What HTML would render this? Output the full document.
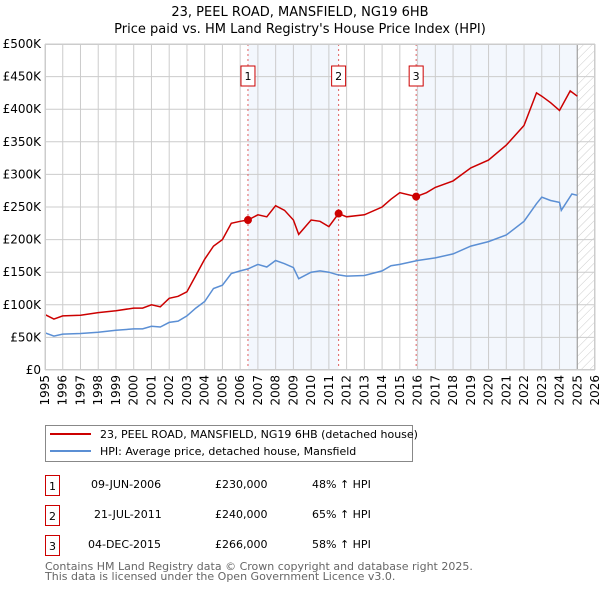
<!DOCTYPE html>
<html><head><meta charset="utf-8"><style>
body{margin:0;background:#fff;font-family:"DejaVu Sans","Liberation Sans",sans-serif;}
svg text{font-family:"DejaVu Sans","Liberation Sans",sans-serif;}
</style></head><body>
<svg id="c" width="600" height="590" xmlns="http://www.w3.org/2000/svg">
<defs><pattern id="hatch" width="6" height="6" patternUnits="userSpaceOnUse" patternTransform="rotate(45)"><line x1="0" y1="0" x2="0" y2="6" stroke="#ccc" stroke-width="1"/></pattern></defs>
<text x="300" y="16" text-anchor="middle" font-size="13">23, PEEL ROAD, MANSFIELD, NG19 6HB</text>
<text x="300" y="33" text-anchor="middle" font-size="13">Price paid vs. HM Land Registry's House Price Index (HPI)</text>
<g id="plot"></g>
<g>
<rect x="45.5" y="425.5" width="367" height="36" fill="#fff" stroke="#888"/>
<line x1="50" y1="434" x2="91" y2="434" stroke="#cc0000" stroke-width="2"/>
<text x="100" y="438" font-size="11">23, PEEL ROAD, MANSFIELD, NG19 6HB (detached house)</text>
<line x1="50" y1="451" x2="91" y2="451" stroke="#5b8fd4" stroke-width="2"/>
<text x="100" y="455" font-size="11">HPI: Average price, detached house, Mansfield</text>
</g>
<g font-size="11">
<rect x="45.5" y="475.5" width="14" height="20" fill="#fff" stroke="#cc0000"/><text x="52.5" y="490" text-anchor="middle">1</text>
<text x="91" y="488">09-JUN-2006</text><text x="215" y="488">£230,000</text><text x="312" y="488">48% ↑ HPI</text>
<rect x="45.5" y="505.5" width="14" height="20" fill="#fff" stroke="#cc0000"/><text x="52.5" y="520" text-anchor="middle">2</text>
<text x="94" y="518">21-JUL-2011</text><text x="215" y="518">£240,000</text><text x="312" y="518">65% ↑ HPI</text>
<rect x="45.5" y="535.5" width="14" height="20" fill="#fff" stroke="#cc0000"/><text x="52.5" y="550" text-anchor="middle">3</text>
<text x="88" y="548">04-DEC-2015</text><text x="215" y="548">£266,000</text><text x="312" y="548">58% ↑ HPI</text>
</g>
<text x="45" y="570" font-size="11" fill="#666">Contains HM Land Registry data © Crown copyright and database right 2025.</text>
<text x="45" y="580" font-size="11" fill="#666">This data is licensed under the Open Government Licence v3.0.</text>
</svg>
<script>
const hpiT=[1995,1995.5,1996,1997,1998,1999,2000,2000.5,2001,2001.5,2002,2002.5,2003,2003.5,2004,2004.5,2005,2005.5,2006,2006.44,2007,2007.5,2008,2008.5,2009,2009.3,2010,2010.5,2011,2011.5,2012,2013,2014,2014.5,2015,2016,2017,2018,2019,2020,2021,2022,2022.7,2023,2023.5,2024,2024.1,2024.7,2025];
const hpiV=[57,52,55,56,58,61,63,63,67,66,73,75,83,95,105,125,130,148,152,155,162,158,168,163,157,140,150,152,150,146,144,145,152,160,162,168,172,178,190,197,207,228,255,265,260,257,245,270,268];
const redT=[1995,1995.5,1996,1997,1998,1999,2000,2000.5,2001,2001.5,2002,2002.5,2003,2003.5,2004,2004.5,2005,2005.5,2006,2006.44,2007,2007.5,2008,2008.5,2009,2009.3,2010,2010.5,2011,2011.55,2012,2013,2014,2014.5,2015,2015.92,2016.5,2017,2018,2019,2020,2021,2022,2022.7,2023,2023.5,2024,2024.6,2025];
const redV=[85,78,83,84,88,91,95,95,100,97,110,113,120,145,170,190,200,225,228,230,238,235,252,245,230,208,230,228,220,240,235,238,250,262,272,266,272,280,290,310,322,345,375,425,420,410,398,428,420];
const saleT=[2006.44,2011.55,2015.92];
const saleV=[230,240,266];
const saleLabels=["1","2","3"];
const yTicks=[0,50,100,150,200,250,300,350,400,450,500];
const yTickLabels=["£0","£50K","£100K","£150K","£200K","£250K","£300K","£350K","£400K","£450K","£500K"];
const years=[1995,1996,1997,1998,1999,2000,2001,2002,2003,2004,2005,2006,2007,2008,2009,2010,2011,2012,2013,2014,2015,2016,2017,2018,2019,2020,2021,2022,2023,2024,2025,2026];
const X0=45,X1=595,Y0=370,Y1=44,T0=1995,T1=2026,V1=500,DATA_END=2025.0;
const xs=t=>X0+(t-T0)/(T1-T0)*(X1-X0);
const ys=v=>Y0-v/V1*(Y0-Y1);
const NS="http://www.w3.org/2000/svg";
const g=document.getElementById('plot');
function mk(tag,attrs,parent){const e=document.createElementNS(NS,tag);for(const k in attrs)e.setAttribute(k,attrs[k]);(parent||g).appendChild(e);return e;}
// shading
let e;
e=mk('rect',{x:xs(saleT[0]),y:Y1,width:xs(saleT[1])-xs(saleT[0]),height:Y0-Y1,fill:'#eef3fc',opacity:0.7});


e=mk('rect',{x:xs(saleT[2]),y:Y1,width:xs(DATA_END)-xs(saleT[2]),height:Y0-Y1,fill:'#eef3fc',opacity:0.7});


e=mk('rect',{x:xs(DATA_END),y:Y1,width:X1-xs(DATA_END),height:Y0-Y1,fill:'url(#hatch)'});


// grid
years.forEach(y=>{
 e=mk('line',{x1:xs(y),x2:xs(y),y1:Y1,y2:Y0,stroke:'#ccc','stroke-width':1});
 
 
 const tx=xs(y)+4;
 e=mk('text',{x:0,y:0,transform:`translate(${tx},${Y0+5}) rotate(-90)`,'text-anchor':'end','font-size':12});
 e.textContent=y;
 
 
});
yTicks.forEach((v,i)=>{
 e=mk('line',{x1:X0,x2:X1,y1:ys(v),y2:ys(v),stroke:'#ccc','stroke-width':1});
 
 
 e=mk('text',{x:X0-4,y:ys(v)+4,'text-anchor':'end','font-size':12});
 e.textContent=yTickLabels[i];
 
 
});
e=mk('line',{x1:xs(DATA_END),x2:xs(DATA_END),y1:Y1,y2:Y0,stroke:'#999','stroke-width':1});


// sale lines
saleT.forEach((t,i)=>{
 e=mk('line',{x1:xs(t),x2:xs(t),y1:Y1,y2:Y0,stroke:'#e06060','stroke-width':1,'stroke-dasharray':'2,3'});
 
 
 e=mk('rect',{x:xs(t)-7,y:66,width:14,height:20,fill:'#fff',stroke:'#cc0000'});
 
 
 e=mk('text',{x:xs(t),y:80,'text-anchor':'middle','font-size':11});
 e.textContent=saleLabels[i];
 
 
});
const path=(T,V)=>T.map((t,i)=>(i?'L':'M')+xs(t).toFixed(1)+','+ys(V[i]).toFixed(1)).join('');
e=mk('path',{d:path(hpiT,hpiV),fill:'none',stroke:'#5b8fd4','stroke-width':1.5});


e=mk('path',{d:path(redT,redV),fill:'none',stroke:'#cc0000','stroke-width':1.5});


saleT.forEach((t,i)=>{
 e=mk('circle',{cx:xs(t),cy:ys(saleV[i]),r:4,fill:'#cc0000'});
 
 
});
e=mk('rect',{x:X0+0.5,y:Y1+0.5,width:X1-X0-1,height:Y0-Y1-1,fill:'none',stroke:'#ccc'});


</script>
</body></html>
